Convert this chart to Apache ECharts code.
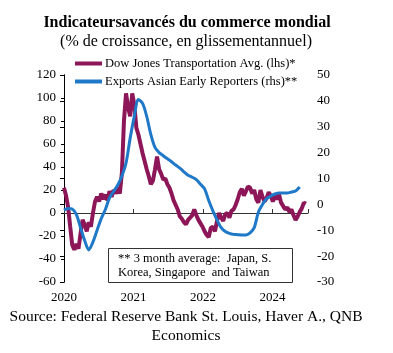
<!DOCTYPE html>
<html>
<head>
<meta charset="utf-8">
<script src="https://cdn.jsdelivr.net/npm/echarts@6/dist/echarts.min.js"></script>
<style>
  html, body { margin: 0; padding: 0; background: #fff; }
  #chart { width: 393px; height: 353px; }
</style>
</head>
<body>
<div id="chart"></div>
<script>
  // Dow Jones Transportation Avg., % a/a (lhs), un point tous les demi-mois depuis janv. 2020
  var dowJones = [
    22, 15, 5, -12, -28, -32, -27, -31, -18, -6,
    -10, -16, -8, -12, 0, 10, 14, 10, 17, 12,
    16, 11, 19, 14, 20, 17, 22, 17, 35, 80,
    104, 92, 84, 104, 94, 74, 68, 60, 52, 45,
    38, 32, 25, 28, 38, 49, 38, 34, 29, 30,
    25, 22, 17, 11, 7, 3, -3, -5, -8, -10,
    -6, -4, -2, 3, -2, -6, -9, -12, -16, -19,
    -21, -13, -12, -16, -7, 0, -4, -7, -1, 0,
    -4, 2, 3, 7, 12, 18, 21, 15, 19, 23,
    22, 17, 20, 12, 9, 20, 14, 10, 13, 18,
    15, 10, 15, 12, 16, 9, 6, 3, 5, 1,
    3, -2, -6, -3, 1, 4, 9, 8
  ];
  // Exports Asian Early Reporters, moyenne 3 mois % a/a (rhs), mensuel depuis janv. 2020
  var asianExports = [
    -2.2, -1.6, -1.8, -4, -9, -14, -17.6, -14.5, -10, -5.5,
    -2, 2.5, 5, 7.5, 11, 16, 25.6, 34, 40.5, 39,
    34, 27, 22, 20, 18.8, 17.6, 16.5, 15.2, 14, 12.6,
    11.3, 10.5, 9.6, 7.8, 6, 1.5, -2.5, -6, -9, -10.5,
    -11.2, -11.6, -11.7, -11.8, -11.8, -11, -9, -3, 0, 2.2,
    3.2, 4, 4.4, 4.4, 4.4, 4.8, 5.2, 6.7
  ];
  var startYear = 2020;
  var labelStepMonths = 16.8;

  var serif = '"Liberation Serif", "Times New Roman", serif';

  var redData = dowJones.map(function (v, i) { return [i / 2, v]; });
  var blueData = asianExports.map(function (v, i) { return [i, v]; });

  var myChart = echarts.init(document.getElementById('chart'));

  var option = {
    animation: false,
    backgroundColor: '#fff',
    title: [
      {
        text: 'Indicateursavancés du commerce mondial',
        left: 182, top: 10, textAlign: 'center',
        textStyle: { fontFamily: serif, fontSize: 16, fontWeight: 'bold', color: '#000' }
      },
      {
        text: '(% de croissance, en glissementannuel)',
        left: 181, top: 29, textAlign: 'center',
        textStyle: { fontFamily: serif, fontSize: 16, fontWeight: 'normal', color: '#000' }
      }
    ],
    legend: {
      orient: 'vertical',
      left: 70, top: 52,
      itemWidth: 27, itemHeight: 4,
      itemGap: 5,
      icon: 'rect',
      textStyle: { fontFamily: serif, fontSize: 12.5, color: '#000', padding: [0, 0, 0, -2] },
      data: ['Dow Jones Transportation Avg. (lhs)*', 'Exports Asian Early Reporters (rhs)**']
    },
    grid: { left: 64, right: 85, top: 75, bottom: 71, containLabel: false },
    xAxis: [
      {
        type: 'value',
        min: 0, max: 59, interval: labelStepMonths,
        position: 'bottom',
        axisLine: { show: false },
        axisTick: { show: false },
        splitLine: { show: false },
        axisLabel: {
          fontFamily: serif, fontSize: 13, color: '#000', margin: 9,
          showMaxLabel: false,
          formatter: function (v) { return String(startYear + Math.floor(v / 12 + 1e-6)); }
        }
      },
      {
        type: 'value',
        min: 0, max: 59, interval: labelStepMonths,
        position: 'bottom',
        axisLine: { show: true, onZero: true, onZeroAxisIndex: 0, lineStyle: { color: '#333', width: 1 } },
        axisTick: { show: true, inside: true, length: 4, lineStyle: { color: '#333' } },
        axisLabel: { show: false },
        splitLine: { show: false }
      }
    ],
    yAxis: [
      {
        type: 'value',
        min: -60, max: 120, interval: 20,
        axisLine: { show: true, lineStyle: { color: '#000', width: 1 } },
        axisTick: { show: true, length: 3, lineStyle: { color: '#000' } },
        splitLine: { show: false },
        axisLabel: { fontFamily: serif, fontSize: 13, color: '#000', margin: 8 }
      },
      {
        type: 'value',
        min: -30, max: 50, interval: 10,
        position: 'right',
        axisLine: { show: true, lineStyle: { color: '#000', width: 1 } },
        axisTick: { show: true, inside: true, length: 4, lineStyle: { color: '#000' } },
        splitLine: { show: false },
        axisLabel: { fontFamily: serif, fontSize: 13, color: '#000', margin: 9 }
      }
    ],
    series: [
      {
        name: 'Dow Jones Transportation Avg. (lhs)*',
        type: 'line',
        xAxisIndex: 0, yAxisIndex: 0,
        showSymbol: false,
        color: '#8c1657',
        lineStyle: { width: 4, color: '#8c1657' },
        data: redData,
        z: 2
      },
      {
        name: 'Exports Asian Early Reporters (rhs)**',
        type: 'line',
        xAxisIndex: 0, yAxisIndex: 1,
        showSymbol: false,
        smooth: 0.3,
        color: '#1f78c8',
        lineStyle: { width: 3, color: '#1f78c8' },
        data: blueData,
        z: 3
      }
    ],
    graphic: [
      {
        type: 'rect',
        shape: { x: 108.5, y: 248.5, width: 184, height: 34 },
        style: { fill: '#fff', stroke: '#333', lineWidth: 1 },
        z: 10
      },
      {
        type: 'text',
        left: 118, top: 252,
        style: {
          text: '** 3 month average:  Japan, S.\nKorea, Singapore  and Taiwan',
          font: '12.5px ' + serif, fill: '#000', lineHeight: 14
        },
        z: 11
      },
      {
        type: 'text',
        x: 186, y: 307,
        style: {
          text: 'Source: Federal Reserve Bank St. Louis, Haver A., QNB\nEconomics',
          font: '15.5px ' + serif, fill: '#000', lineHeight: 19,
          align: 'center', verticalAlign: 'top'
        },
        z: 11
      }
    ]
  };

  myChart.setOption(option);
</script>
</body>
</html>
